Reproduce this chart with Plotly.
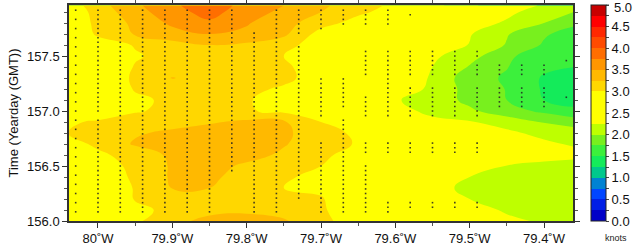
import plotly.graph_objects as go
import numpy as np

# Longitudes (degrees W) of the gridded field columns
lon_w = [80.04, 80.0, 79.95, 79.9, 79.85, 79.8, 79.75, 79.7, 79.65, 79.6, 79.55, 79.5, 79.45, 79.4, 79.36]
# Times (yearday) of grid rows
yearday = [156.0, 156.1, 156.2, 156.3, 156.4, 156.5, 156.6, 156.7, 156.8, 156.9,
           157.0, 157.1, 157.2, 157.3, 157.4, 157.5, 157.6, 157.7, 157.8, 157.9, 157.96]
# Speed (knots), one row per yearday
speed = [
    [2.40, 2.60, 2.95, 3.20, 3.30, 3.35, 3.28, 3.05, 2.90, 2.70, 2.50, 2.40, 2.30, 2.22, 2.15],  # 156.0
    [2.45, 2.65, 2.90, 3.10, 3.20, 3.20, 3.15, 3.03, 2.85, 2.60, 2.45, 2.35, 2.22, 2.15, 2.10],  # 156.1
    [2.50, 2.70, 3.02, 3.10, 3.22, 3.10, 3.05, 3.02, 2.80, 2.60, 2.40, 2.25, 2.15, 2.10, 2.08],  # 156.2
    [2.55, 2.75, 3.02, 3.26, 3.25, 3.10, 3.00, 2.95, 2.80, 2.60, 2.35, 2.18, 2.10, 2.08, 2.05],  # 156.3
    [2.60, 2.80, 3.05, 3.28, 3.30, 3.15, 3.05, 2.90, 2.75, 2.60, 2.40, 2.25, 2.10, 2.05, 2.00],  # 156.4
    [2.65, 2.90, 3.05, 3.28, 3.35, 3.20, 3.10, 3.00, 2.85, 2.70, 2.55, 2.45, 2.24, 2.15, 2.10],  # 156.5
    [2.70, 2.95, 3.10, 3.30, 3.38, 3.35, 3.20, 3.05, 2.90, 2.75, 2.60, 2.50, 2.45, 2.40, 2.35],  # 156.6
    [2.90, 3.05, 3.28, 3.35, 3.40, 3.38, 3.27, 3.10, 2.98, 2.75, 2.60, 2.50, 2.40, 2.30, 2.22],  # 156.7
    [3.00, 3.10, 3.22, 3.30, 3.38, 3.40, 3.30, 3.10, 2.95, 2.70, 2.50, 2.40, 2.30, 2.18, 2.12],  # 156.8
    [2.95, 3.05, 3.10, 3.15, 3.22, 3.30, 3.28, 3.00, 2.85, 2.60, 2.30, 2.27, 2.15, 1.98, 1.90],  # 156.9
    [2.60, 2.75, 2.98, 3.05, 3.05, 3.02, 2.95, 2.75, 2.60, 2.32, 2.20, 2.05, 1.85, 1.70, 1.55],  # 157.0
    [2.60, 2.72, 2.95, 3.05, 3.05, 3.03, 2.85, 2.70, 2.55, 2.27, 2.15, 1.93, 1.75, 1.50, 1.42],  # 157.1
    [2.60, 2.75, 3.02, 3.10, 3.10, 3.05, 2.97, 2.80, 2.60, 2.40, 2.20, 1.90, 1.74, 1.47, 1.35],  # 157.2
    [2.60, 2.75, 3.05, 3.26, 3.15, 3.10, 3.05, 2.90, 2.60, 2.45, 2.22, 1.85, 1.72, 1.47, 1.38],  # 157.3
    [2.60, 2.70, 3.02, 3.10, 3.12, 3.10, 3.05, 2.85, 2.60, 2.45, 2.25, 1.98, 1.76, 1.55, 1.50],  # 157.4
    [2.60, 2.75, 2.97, 3.10, 3.15, 3.12, 3.00, 2.80, 2.65, 2.50, 2.30, 2.10, 1.80, 1.60, 1.55],  # 157.5
    [2.65, 2.85, 3.02, 3.15, 3.25, 3.20, 3.10, 2.85, 2.70, 2.55, 2.40, 2.24, 1.98, 1.72, 1.55],  # 157.6
    [2.70, 3.05, 3.27, 3.40, 3.50, 3.45, 3.30, 2.90, 2.75, 2.60, 2.45, 2.27, 2.02, 1.78, 1.65],  # 157.7
    [2.75, 3.08, 3.30, 3.55, 3.70, 3.52, 3.35, 3.10, 2.90, 2.70, 2.50, 2.35, 2.22, 2.00, 1.80],  # 157.8
    [2.80, 3.10, 3.40, 3.65, 3.85, 3.60, 3.45, 3.25, 3.05, 2.90, 2.70, 2.45, 2.30, 2.15, 2.00],  # 157.9
    [2.85, 3.15, 3.45, 3.70, 3.92, 3.65, 3.50, 3.30, 3.10, 2.95, 2.85, 2.55, 2.35, 2.23, 2.10],  # 157.96
]

# Observation columns (degrees W) and the yearday spans in which hourly samples exist
obs_lon_w = [80.03, 80.0, 79.97, 79.94, 79.91, 79.88, 79.85, 79.82, 79.79, 79.76, 79.73, 79.7,
             79.67, 79.64, 79.61, 79.58, 79.55, 79.52, 79.49, 79.46, 79.43, 79.4, 79.37]
obs_spans = [
    [(156.05, 157.92, 2)],
    [(156.05, 156.95, 1), (157.0, 157.92, 1)],
    [(156.05, 157.92, 1)],
    [(156.05, 157.92, 1)],
    [(156.05, 157.92, 1)],
    [(156.05, 157.92, 1)],
    [(156.05, 157.92, 1)],
    [(156.45, 157.92, 1)],
    [(156.05, 157.74, 1)],
    [(156.05, 157.92, 1)],
    [(156.19, 157.6, 1), (157.7, 157.92, 1)],
    [(156.05, 156.71, 1), (156.95, 157.3, 1), (157.75, 157.92, 1)],
    [(156.05, 156.95, 1), (157.01, 157.3, 1), (157.78, 157.92, 1)],
    [(156.05, 156.5, 1), (156.62, 156.71, 1), (156.95, 157.15, 1), (157.3, 157.58, 1), (157.78, 157.92, 1)],
    [(156.05, 156.19, 1), (156.62, 156.71, 1), (156.92, 157.3, 1), (157.33, 157.58, 1), (157.78, 157.92, 1)],
    [(156.1, 156.19, 1), (156.35, 156.36, 1), (156.62, 156.71, 1), (156.95, 157.21, 1), (157.33, 157.58, 1), (157.87, 157.88, 1)],
    [(156.1, 156.19, 1), (156.62, 156.71, 1), (156.95, 157.21, 1), (157.33, 157.58, 1)],
    [(156.1, 156.19, 1), (156.62, 156.71, 1), (156.95, 157.21, 1), (157.33, 157.58, 1)],
    [(156.1, 156.19, 1), (156.62, 156.71, 1), (156.95, 157.21, 1), (157.33, 157.42, 1), (157.5, 157.58, 1)],
    [(157.01, 157.21, 1), (157.33, 157.42, 1)],
    [(157.01, 157.21, 1), (157.33, 157.42, 1)],
    [(157.01, 157.21, 1), (157.33, 157.42, 1)],
    [(157.1, 157.15, 1), (157.42, 157.46, 1)],
]

levels_colors = [
    "#0000c8", "#001ee6", "#0046ff", "#0082d2", "#00c88c", "#14eb5a", "#3cf03c", "#78f01e",
    "#beff00", "#ffff00", "#ffff00", "#ffff00", "#ffd700", "#ffb900", "#ff9600", "#ff6e00",
    "#ff4b00", "#ff2800", "#ff0000", "#c80000",
]

# colour bar ticks: every 0.25 knots, labelled every 0.5
cbar_tickvals = [i * 0.25 for i in range(21)]
cbar_ticktext = ["0.0", "", "0.5", "", "1.0", "", "1.5", "", "2.0", "", "2.5", "",
                 "3.0", "", "3.5", "", "4.0", "", "4.5", "", "5.0"]

xt = [-80.0, -79.9, -79.8, -79.7, -79.6, -79.5, -79.4]
xtl = ["80˚W", "79.9˚W", "79.8˚W", "79.7˚W", "79.6˚W", "79.5˚W", "79.4˚W"]

colorscale = []
n = len(levels_colors)
for i, c in enumerate(levels_colors):
    colorscale.append([i / n, c])
    colorscale.append([(i + 1) / n, c])

x = [-v for v in lon_w]

dx, dy = [], []
for lw, spans in zip(obs_lon_w, obs_spans):
    for (a, b, step) in spans:
        k0 = int(np.ceil(round((a - 156.0) * 24, 6)))
        k1 = int(np.floor(round((b - 156.0) * 24, 6)))
        for k in range(k0, k1 + 1, step):
            dx.append(-lw)
            dy.append(156.0 + k / 24.0)

PL, PR, PT, PB = 69, 573, 5, 221
W, H = 639, 247
pw, ph = PR - PL, PB - PT
CB_LEFT, CB_THICK = 591, 15

fig = go.Figure()
fig.add_trace(go.Contour(
    x=x, y=yearday, z=speed,
    colorscale=colorscale, zmin=0, zmax=5, zauto=False,
    contours=dict(start=0, end=5, size=0.25, coloring="fill", showlines=False),
    line=dict(width=0, smoothing=1.3),
    colorbar=dict(
        x=(CB_LEFT - PL) / pw, xanchor="left", xref="paper",
        y=0.5, yanchor="middle", len=1.0, lenmode="fraction",
        thickness=CB_THICK, outlinecolor="#222", outlinewidth=1, xpad=0, ypad=0,
        tickmode="array", tickvals=cbar_tickvals, ticktext=cbar_ticktext,
        ticks="outside", ticklen=3, tickcolor="#444",
        tickfont=dict(family="Liberation Sans, Arial", size=13, color="#111"),
    ),
    hoverinfo="skip",
))
fig.add_trace(go.Scatter(
    x=dx, y=dy, mode="markers",
    marker=dict(size=1.6, color="#222", symbol="square", line=dict(width=0), opacity=0.85),
    showlegend=False, hoverinfo="skip",
))

fig.update_layout(
    width=W, height=H,
    margin=dict(l=PL, r=W - PR, t=PT, b=H - PB, autoexpand=False),
    paper_bgcolor="white", plot_bgcolor="white",
    font=dict(family="Liberation Sans, Arial", size=13, color="#111"),
    showlegend=False,
    xaxis=dict(
        range=[-80.039, -79.361], tickvals=xt, ticktext=xtl,
        ticks="outside", ticklen=5, tickcolor="#333", mirror="allticks",
        showline=True, linecolor="#333", linewidth=1.5, showgrid=False, zeroline=False,
        minor=dict(dtick=0.05, tick0=0, ticks="outside", ticklen=3, tickcolor="#555"),
        tickfont=dict(size=13),
    ),
    yaxis=dict(
        range=[156.0, 157.964], tickmode="linear", tick0=156.0, dtick=0.5, tickformat=".1f",
        ticks="outside", ticklen=5, tickcolor="#333", mirror="allticks",
        showline=True, linecolor="#333", linewidth=1.5, showgrid=False, zeroline=False,
        minor=dict(dtick=0.1, ticks="outside", ticklen=3, tickcolor="#555"),
        title=dict(text="Time (Yearday (GMT))", font=dict(size=13), standoff=6),
        tickfont=dict(size=13),
    ),
    annotations=[
        dict(text="knots", x=(616 - PL) / pw, y=(PB - 238) / ph, xref="paper", yref="paper",
             xanchor="center", yanchor="middle", showarrow=False,
             font=dict(size=9, color="#222")),
        # top colour-bar label (Plotly drops the tick label sitting exactly on the bar end)
        dict(text=cbar_ticktext[-1], x=(CB_LEFT + CB_THICK + 6 - PL) / pw, y=1.0 - 2 / ph,
             xref="paper", yref="paper", xanchor="left", yanchor="middle", showarrow=False,
             font=dict(family="Liberation Sans, Arial", size=13, color="#111")),
    ],
    shapes=[dict(type="line", xref="paper", yref="paper",
                 x0=(CB_LEFT + CB_THICK - PL) / pw, x1=(CB_LEFT + CB_THICK + 3 - PL) / pw,
                 y0=1.0, y1=1.0, line=dict(color="#444", width=1))],
)

fig.write_html("out.html")
